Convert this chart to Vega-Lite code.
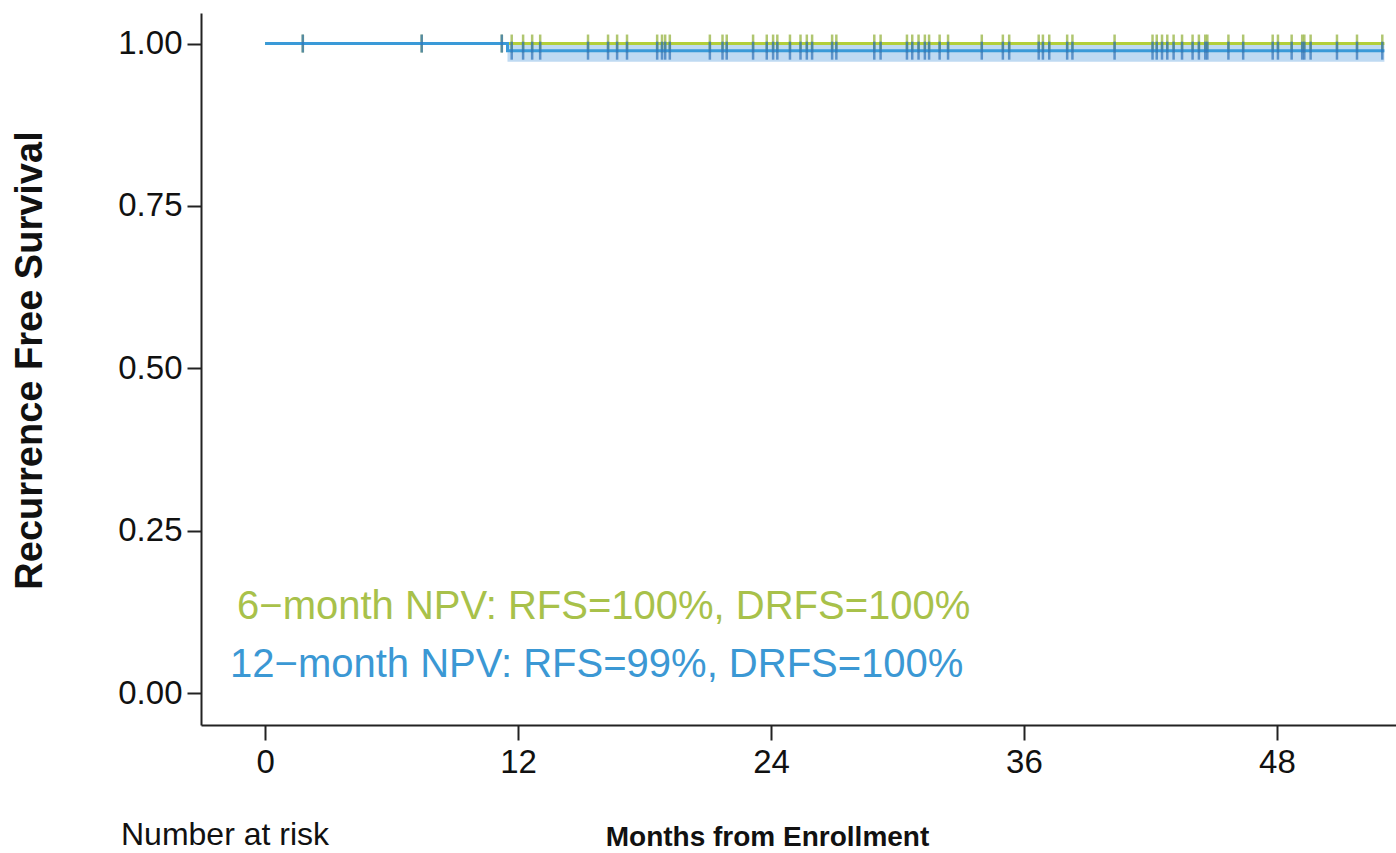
{
  "$schema": "https://vega.github.io/schema/vega-lite/v6.json",
  "width": 1195,
  "height": 712,
  "autosize": {"type": "none"},
  "padding": {"left": 201, "top": 13, "right": 0, "bottom": 128},
  "background": "white",
  "config": {
    "view": {"stroke": null},
    "font": "Liberation Sans",
    "axis": {"grid": false, "domainColor": "#222", "domainWidth": 2, "tickColor": "#222", "tickWidth": 2, "labelColor": "#111", "titleColor": "#111", "labelFont": "Liberation Sans", "titleFont": "Liberation Sans"}
  },
  "datasets": {
    "curves": [
      {"group": "6-month", "time": 0, "surv": 1.0},
      {"group": "6-month", "time": 53.1, "surv": 1.0},
      {"group": "12-month", "time": 0, "surv": 1.0},
      {"group": "12-month", "time": 11.5, "surv": 0.989},
      {"group": "12-month", "time": 53.1, "surv": 0.989}
    ],
    "band": [
      {"time": 11.5, "lower": 0.972, "upper": 1.0},
      {"time": 53.1, "lower": 0.972, "upper": 1.0}
    ],
    "censor": [
      {"time": 1.79}, {"time": 7.43}, {"time": 11.23}, {"time": 11.7}, {"time": 12.24}, {"time": 12.67}, {"time": 13.05},
      {"time": 15.32}, {"time": 16.27}, {"time": 16.7}, {"time": 17.17}, {"time": 18.6}, {"time": 18.83}, {"time": 18.98},
      {"time": 19.2}, {"time": 21.1}, {"time": 21.7}, {"time": 21.9}, {"time": 23.15}, {"time": 23.8}, {"time": 24.1},
      {"time": 24.3}, {"time": 24.9}, {"time": 25.4}, {"time": 25.7}, {"time": 25.95}, {"time": 26.9}, {"time": 27.1},
      {"time": 28.9}, {"time": 29.2}, {"time": 30.45}, {"time": 30.7}, {"time": 31.0}, {"time": 31.3}, {"time": 31.5},
      {"time": 32.0}, {"time": 32.4}, {"time": 34.0}, {"time": 35.0}, {"time": 35.3}, {"time": 36.7}, {"time": 36.9},
      {"time": 37.2}, {"time": 38.05}, {"time": 38.3}, {"time": 40.3}, {"time": 42.1}, {"time": 42.3}, {"time": 42.55},
      {"time": 42.8}, {"time": 43.1}, {"time": 43.5}, {"time": 44.0}, {"time": 44.3}, {"time": 44.6}, {"time": 44.7},
      {"time": 45.7}, {"time": 46.4}, {"time": 47.8}, {"time": 48.05}, {"time": 48.7}, {"time": 49.2}, {"time": 49.3},
      {"time": 49.6}, {"time": 50.85}, {"time": 51.8}, {"time": 53.0}
    ],
    "notes": [
      {"label": "6−month NPV: RFS=100%, DRFS=100%", "group": "6-month", "time": -1.33, "surv": 0.132},
      {"label": "12−month NPV: RFS=99%, DRFS=100%", "group": "12-month", "time": -1.66, "surv": 0.043}
    ],
    "risk": [
      {"label": "Number at risk", "time": -1.9, "surv": -0.219}
    ]
  },
  "encoding": {
    "x": {
      "field": "time", "type": "quantitative",
      "scale": {"domain": [-3.04, 53.65], "nice": false, "zero": false},
      "axis": {"values": [0, 12, 24, 36, 48], "tickSize": 15, "labelFontSize": 33, "labelPadding": 6,
               "title": "Months from Enrollment", "titleFontSize": 28, "titleFontWeight": "bold",
               "titleX": 566, "titleY": 112, "titleAlign": "center", "titleBaseline": "middle"}
    },
    "y": {
      "field": "surv", "type": "quantitative",
      "scale": {"domain": [-0.049, 1.047], "nice": false, "zero": false},
      "axis": {"values": [0, 0.25, 0.5, 0.75, 1], "format": ".2f", "tickSize": 14, "labelFontSize": 33, "labelPadding": 5,
               "title": "Recurrence Free Survival", "titleFontSize": 38, "titleFontWeight": "bold",
               "titleX": -171, "titleY": 347, "titleAlign": "center", "titleBaseline": "middle"}
    }
  },
  "layer": [
    {
      "data": {"name": "band"},
      "mark": {"type": "area", "interpolate": "step-after", "color": "#a9cdee", "opacity": 0.75},
      "encoding": {"y": {"field": "lower", "type": "quantitative"}, "y2": {"field": "upper"}}
    },
    {
      "data": {"name": "curves"},
      "transform": [{"filter": "datum.group === '6-month'"}],
      "mark": {"type": "line", "interpolate": "step-after", "color": "#b3cf3a", "strokeWidth": 3},
      "encoding": {}
    },
    {
      "data": {"name": "censor"},
      "transform": [{"calculate": "1.0", "as": "surv"}],
      "mark": {"type": "tick", "orient": "vertical", "color": "#8fae33", "size": 18, "thickness": 2.5},
      "encoding": {}
    },
    {
      "data": {"name": "curves"},
      "transform": [{"filter": "datum.group === '12-month'"}],
      "mark": {"type": "line", "interpolate": "step-after", "color": "#3a9ad8", "strokeWidth": 3},
      "encoding": {}
    },
    {
      "data": {"name": "censor"},
      "transform": [{"calculate": "datum.time < 11.5 ? 1.0 : 0.989", "as": "surv"}],
      "mark": {"type": "tick", "orient": "vertical", "color": "#2f72b8", "size": 18, "thickness": 2.5},
      "encoding": {}
    },
    {
      "data": {"name": "notes"},
      "mark": {"type": "text", "align": "left", "baseline": "middle", "fontSize": 40, "font": "Liberation Sans"},
      "encoding": {
        "text": {"field": "label"},
        "color": {"field": "group", "type": "nominal", "legend": null,
                  "scale": {"domain": ["6-month", "12-month"], "range": ["#a8c14a", "#3b98d4"]}}
      }
    },
    {
      "data": {"name": "risk"},
      "mark": {"type": "text", "align": "center", "baseline": "middle", "fontSize": 32, "font": "Liberation Sans", "color": "#111"},
      "encoding": {"text": {"field": "label"}}
    }
  ]
}
